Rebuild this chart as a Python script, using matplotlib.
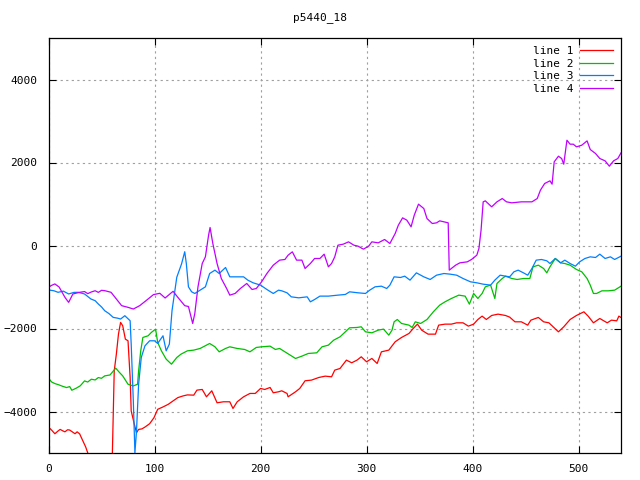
import matplotlib
matplotlib.use('Agg')
import matplotlib.pyplot as plt

title = 'p5440_18'
labels = ['line 1', 'line 2', 'line 3', 'line 4']
colors = ['#ff0000', '#00c000', '#0080ff', '#c000ff']

# line 1 (red)
x1 = [0, 3, 6, 9, 11, 13, 15.5, 18, 20, 23, 25, 27, 29.4, 32.5, 35, 37, 42, 48, 54, 59, 60.2, 62, 64, 66,
      68, 70, 72.5, 75, 77, 78, 81, 83, 85, 88, 91, 95.4, 99.5, 103, 108, 113, 117.5, 122, 127, 131, 137,
      140, 145, 149, 154, 159, 165, 171, 174, 178, 184, 190, 195, 200, 204, 209, 212, 217, 220, 225, 226,
      233, 237, 242, 248, 255, 261, 267, 270, 275, 281, 286, 291, 295, 300, 305, 310, 314, 321, 327, 333,
      340, 344, 348, 352, 358, 365, 368, 374, 380, 385, 391, 396, 401, 405, 409, 413, 418, 424, 431, 435,
      440, 446, 452, 455, 462, 467, 472, 476, 481, 486, 492, 498, 505, 509, 514, 520, 527, 531, 536, 538,
      540]
y1 = [-4375, -4450, -4536, -4470, -4431, -4460, -4490, -4440, -4447, -4500, -4536, -4490, -4540, -4713,
      -4850, -4995, -5500, -5800, -5900, -5600, -5050, -3021, -2618, -2135, -1853, -1934, -2256, -2296,
      -3182, -3987, -4310, -4512, -4431, -4420, -4375, -4294, -4149, -3947, -3890, -3826, -3745, -3665,
      -3624, -3600, -3606, -3485, -3469, -3646, -3501, -3790, -3766, -3766, -3927, -3766, -3646, -3565,
      -3565, -3445, -3469, -3421, -3549, -3525, -3501, -3565, -3646, -3525, -3445, -3260, -3244, -3180,
      -3148, -3164, -3003, -2963, -2762, -2826, -2762, -2682, -2802, -2722, -2843, -2562, -2521, -2320,
      -2216, -2120, -2000, -1895, -2040, -2136, -2136, -1919, -1895, -1895, -1863, -1863, -1943, -1895,
      -1783, -1702, -1783, -1686, -1654, -1686, -1726, -1839, -1839, -1919, -1799, -1734, -1839, -1863,
      -1959, -2080, -1959, -1783, -1686, -1598, -1702, -1863, -1759, -1863, -1799, -1815, -1702, -1734]

# line 2 (green)
x2 = [0, 3, 6, 10, 13, 17, 20, 22, 26, 30, 34, 37, 40.4, 44, 47, 50, 53, 58, 63.4, 67, 70, 75, 80, 84, 85,
      87, 89, 94, 97, 101, 103, 106.5, 111, 116, 121, 125, 131, 137, 143, 152, 157, 161, 167, 171, 178, 185,
      190, 196, 201, 209, 214, 218, 223, 228, 233, 239, 245, 253, 258, 264, 269, 275, 280, 284, 291, 295,
      299, 305, 311, 316, 321, 324, 326, 329, 333, 340, 343, 346, 351, 357, 363, 369, 374, 380, 387, 393,
      397, 401, 405, 409, 412, 417, 421, 423, 428, 431, 437, 442, 448, 454, 457, 462, 467, 470, 473, 478,
      483, 487, 492, 498, 503, 508, 511, 514, 517, 522, 528, 534, 540]
y2 = [-3198, -3290, -3327, -3360, -3390, -3423, -3400, -3488, -3440, -3380, -3263, -3290, -3222, -3240,
      -3182, -3200, -3142, -3120, -2956, -3061, -3142, -3343, -3384, -3343, -3021, -2538, -2216, -2175,
      -2095, -2015, -2336, -2538, -2739, -2860, -2699, -2618, -2538, -2521, -2481, -2361, -2441, -2562,
      -2481, -2441, -2481, -2505, -2562, -2457, -2441, -2425, -2505, -2481, -2562, -2642, -2722, -2666,
      -2602, -2586, -2441, -2401, -2281, -2200, -2080, -1983, -1975, -1959, -2080, -2104, -2040, -2015,
      -2160, -2040, -1839, -1783, -1879, -1919, -1975, -1839, -1879, -1783, -1598, -1437, -1357, -1277,
      -1196, -1220, -1413, -1156, -1277, -1156, -996, -955, -1277, -915, -795, -739, -795, -819, -795, -795,
      -514, -474, -554, -659, -514, -313, -418, -434, -474, -578, -634, -795, -955, -1156, -1156, -1092,
      -1092, -1076, -980]

# line 3 (blue)
x3 = [0, 5, 9, 14, 19, 24, 28, 34, 40, 44, 47, 50, 53, 57, 61, 65, 68, 72, 77, 78, 80, 81.5, 83, 85, 87.5,
      91, 95.4, 100, 103, 108, 111, 114, 116.5, 121, 125.5, 128.5, 130, 132, 135, 138, 143, 148, 152, 157,
      161, 167, 171, 176, 184, 188, 193, 200, 206, 212, 217, 220, 225, 229, 236, 244, 247, 251, 256, 264,
      273, 280, 284, 292, 299, 303, 308, 314, 319, 322, 326, 332, 336, 341, 347, 354, 360, 366, 373, 379,
      385, 391, 398, 404, 410, 417, 421, 426, 431, 435, 439, 443, 448, 452, 456, 460, 465, 470, 473, 478,
      483, 487, 492, 497, 501, 506, 511, 516, 520, 525, 530, 534, 540]
y3 = [-1071, -1090, -1128, -1100, -1168, -1130, -1128, -1168, -1289, -1330, -1410, -1480, -1571, -1640,
      -1732, -1750, -1772, -1692, -1813, -2377, -3746, -4995, -4471, -3343, -2699, -2417, -2296, -2296,
      -2360, -2175, -2538, -2377, -1571, -765, -443, -150, -434, -996, -1116, -1156, -1076, -996, -675,
      -594, -675, -530, -755, -755, -755, -835, -899, -955, -1060, -1156, -1076, -1092, -1140, -1237,
      -1261, -1237, -1357, -1301, -1220, -1220, -1196, -1180, -1116, -1140, -1156, -1076, -996, -980,
      -1036, -955, -755, -771, -739, -835, -659, -755, -819, -715, -675, -691, -715, -795, -875, -899,
      -932, -955, -835, -715, -739, -755, -634, -594, -659, -715, -554, -353, -337, -369, -434, -313, -418,
      -353, -434, -498, -394, -313, -273, -289, -209, -313, -273, -337, -257]

# line 4 (purple)
x4 = [0, 3, 6, 10, 15.5, 19, 23, 26, 29.4, 34, 37, 40.4, 44, 47, 50, 53, 59, 64, 69, 75, 80, 86, 92, 99,
      105, 110, 113, 117.5, 122, 128.5, 132, 136, 138, 141, 145, 148, 151, 152.4, 155, 159, 163, 168, 171,
      176, 181, 187, 192, 196, 201, 206, 212, 218, 223, 226, 230, 234, 239, 242, 247, 251, 256, 260, 264,
      267, 270, 273, 278, 283, 288, 292, 297, 302, 305, 311, 317, 322, 327, 330, 334, 338, 342, 345, 349,
      354, 357, 362, 366, 369, 373, 377, 378, 384, 388, 395, 399, 404, 406, 408, 410, 412, 418, 423, 428,
      432, 437, 446, 456, 461, 464, 468, 473, 475, 477, 481, 484, 486, 489, 492, 495, 498, 503, 508, 511,
      516, 520, 525, 529, 533, 537, 540]
y4 = [-1007, -960, -926, -1000, -1249, -1370, -1168, -1150, -1128, -1110, -1160, -1120, -1090, -1130, -1080,
      -1088, -1128, -1289, -1450, -1490, -1531, -1450, -1329, -1184, -1152, -1265, -1200, -1104, -1249,
      -1450, -1470, -1879, -1638, -996, -434, -273, 249, 434, 48, -434, -795, -1036, -1196, -1156, -1036,
      -915, -1060, -1036, -875, -675, -474, -353, -337, -233, -153, -353, -353, -554, -434, -313, -313,
      -209, -514, -434, -273, 8, 32, 88, 8, -16, -88, -16, 88, 64, 145, 48, 289, 490, 666, 610, 450, 731,
      996, 891, 650, 530, 546, 594, 570, 546, -594, -474, -418, -394, -337, -233, -72, 369, 1052, 1076,
      932, 1052, 1132, 1052, 1028, 1052, 1052, 1132, 1333, 1494, 1558, 1478, 2016, 2152, 2096, 1959, 2537,
      2441, 2441, 2377, 2417, 2521, 2313, 2216, 2096, 2040, 1911, 2040, 2096, 2232]

xticks = [0, 100, 200, 300, 400, 500]
yticks = [-4000, -2000, 0, 2000, 4000]

plt.rcParams['font.family'] = ['DejaVu Sans Mono']
fig = plt.figure(figsize=(6.4, 4.8), dpi=100)
ax = fig.add_axes([48.5 / 640, 1 - 453 / 480, (621 - 48.5) / 640, (453 - 38) / 480])

for xs, ys, lab, col in zip([x1, x2, x3, x4], [y1, y2, y3, y4], labels, colors):
    ax.plot(xs, ys, color=col, linewidth=0.9, label=lab)

ax.set_xlim(0, 540)
ax.set_ylim(-5000, 5000)
ax.set_xticks(xticks)
ax.set_yticks(yticks)
ax.grid(True, color='#a0a0a0', linestyle=(0, (2, 3)), linewidth=0.8)
ax.tick_params(direction='in', length=5, width=0.8, top=True, right=True, labelsize=8, pad=8)
for s in ax.spines.values():
    s.set_linewidth(0.9)

fig.suptitle(title, y=1 - 18 / 480, va='center', fontsize=8)

ax.legend(loc='upper right', frameon=False, markerfirst=False, fontsize=8, handlelength=3.0,
          labelspacing=0.25, borderaxespad=0.3, handletextpad=0.6)

fig.savefig('out.png', dpi=100)
